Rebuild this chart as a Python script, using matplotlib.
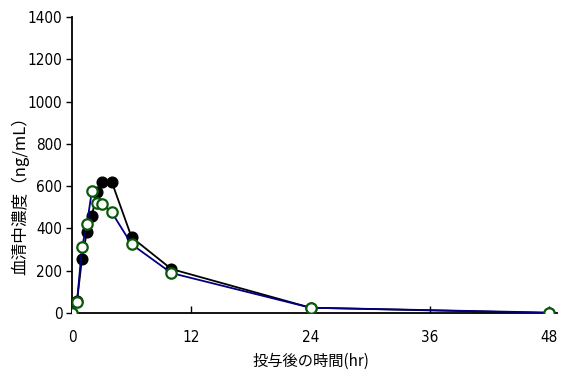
import matplotlib
matplotlib.use("Agg")
import matplotlib.pyplot as plt

hours = [0, 0.5, 1, 1.5, 2, 2.5, 3, 4, 6, 10, 24, 48]
conc_filled = [0, 55, 255, 385, 459, 571, 620, 620, 358, 208, 25, 0]
conc_open = [0, 50, 310, 420, 577, 519, 515, 476, 325, 189, 25, 2]

xticks = [0, 12, 24, 36, 48]
yticks = list(range(0, 1401, 200))

jp_font = ["Noto Sans CJK JP", "DejaVu Sans"]

fig = plt.figure(figsize=(5.66, 3.76), dpi=100)
ax = fig.add_axes([72 / 566, 63 / 376, 485 / 566, 296 / 376])

ax.plot(hours, conc_filled, color="black", lw=1.3, marker="o", ms=7.5,
        mfc="black", mec="black", mew=1.2, zorder=3)
ax.plot(hours, conc_open, color="#000080", lw=1.3, marker="o", ms=7.5,
        mfc="white", mec="#0b5a0b", mew=1.6, zorder=4)

ax.set_xlim(0, 48.8)
ax.set_ylim(0, 1400)
ax.set_xticks(xticks)
ax.set_yticks(yticks)
ax.spines["top"].set_visible(False)
ax.spines["right"].set_visible(False)
for s in ("left", "bottom"):
    ax.spines[s].set_linewidth(1.3)
ax.tick_params(axis="x", direction="in", length=5, width=1, pad=12)
ax.tick_params(axis="y", direction="out", length=4, width=1, pad=3)
for lab in ax.get_xticklabels() + ax.get_yticklabels():
    lab.set_family("DejaVu Sans")
    lab.set_stretch("condensed")
    lab.set_fontsize(11)

ax.set_xlabel("投与後の時間(hr)", family=jp_font, fontsize=11)
ax.set_ylabel("血清中濃度（ng/mL）", family=jp_font, fontsize=12)
ax.xaxis.set_label_coords(0.493, -0.135)
ax.yaxis.set_label_coords(-0.087, 0.41)

fig.savefig("out.png", dpi=100)
